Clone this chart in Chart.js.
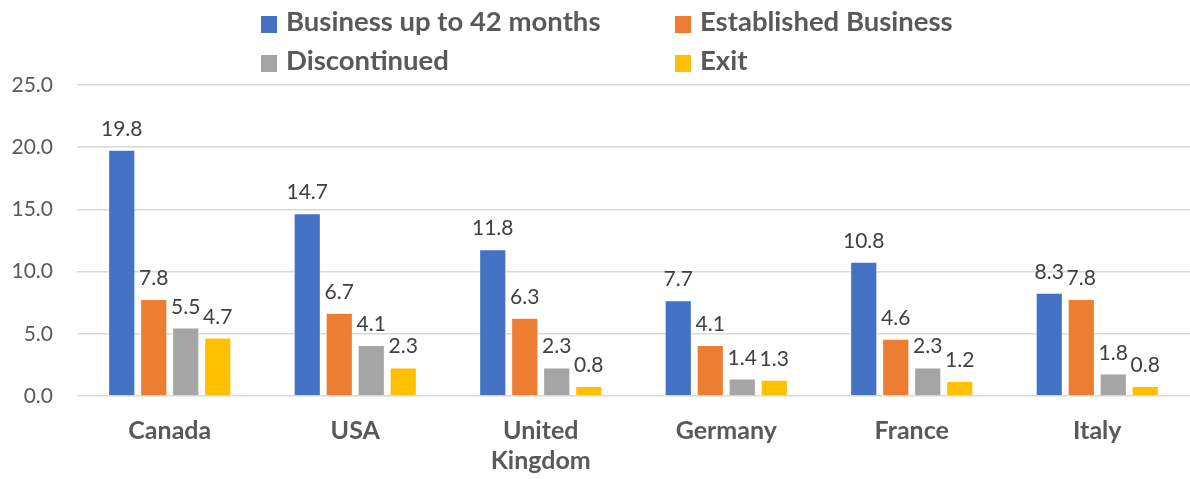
<!DOCTYPE html>
<html>
<head>
<meta charset="utf-8">
<script src="https://cdn.jsdelivr.net/npm/chart.js@4/dist/chart.umd.min.js"></script>
<style>
  html, body { margin: 0; padding: 0; background: #ffffff; }
  #wrap { width: 1190px; height: 479px; }
</style>
</head>
<body>
<div id="wrap"><canvas id="chart" width="1190" height="479"></canvas></div>
<script>
// Countries along the x axis
const categories = ['Canada', 'USA', ['United', 'Kingdom'], 'Germany', 'France', 'Italy'];

// Series names
const seriesNames = ['Business up to 42 months', 'Established Business', 'Discontinued', 'Exit'];

// Rates (%) per country
const newBusiness = [19.8, 14.7, 11.8, 7.7, 10.8, 8.3];
const establishedBusiness = [7.8, 6.7, 6.3, 4.1, 4.6, 7.8];
const discontinued = [5.5, 4.1, 2.3, 1.4, 2.3, 1.8];
const exitRate = [4.7, 2.3, 0.8, 1.3, 1.2, 0.8];

// Y axis ticks
const yTicks = [0, 5, 10, 15, 20, 25];

const seriesColors = ['#4472C4', '#ED7D31', '#A5A5A5', '#FFC000'];
const seriesValues = [newBusiness, establishedBusiness, discontinued, exitRate];

const FONT = 'Lato, "Open Sans", sans-serif';

// Value labels above each bar
const valueLabels = {
  id: 'valueLabels',
  afterDatasetsDraw(chart) {
    const ctx = chart.ctx;
    ctx.save();
    ctx.font = '21px ' + FONT;
    ctx.fillStyle = '#404040';
    ctx.textAlign = 'center';
    ctx.textBaseline = 'alphabetic';
    chart.data.datasets.forEach((ds, i) => {
      chart.getDatasetMeta(i).data.forEach((bar, j) => {
        ctx.fillText(ds.data[j].toFixed(1), bar.x, bar.y - 14);
      });
    });
    ctx.restore();
  }
};

// Two-column legend across the top
const gridLegend = {
  id: 'gridLegend',
  afterDraw(chart) {
    const ctx = chart.ctx;
    const colX = [261, 675];
    const rowY = [16, 55];
    ctx.save();
    ctx.font = 'bold 27.5px ' + FONT;
    ctx.textBaseline = 'alphabetic';
    ctx.textAlign = 'left';
    chart.data.datasets.forEach((ds, i) => {
      const x = colX[i % 2];
      const y = rowY[Math.floor(i / 2)];
      ctx.fillStyle = ds.backgroundColor;
      ctx.fillRect(x, y, 16, 17);
      ctx.fillStyle = '#595959';
      ctx.fillText(ds.label, x + 25, y + 15);
    });
    ctx.restore();
  }
};

new Chart(document.getElementById('chart'), {
  type: 'bar',
  data: {
    labels: categories,
    datasets: seriesNames.map((name, i) => ({
      label: name,
      data: seriesValues[i],
      backgroundColor: seriesColors[i],
      borderColor: 'rgba(255,255,255,0.7)',
      borderWidth: 1,
      categoryPercentage: 0.69,
      barPercentage: 0.85
    }))
  },
  options: {
    responsive: false,
    animation: false,
    layout: { padding: { top: 85, right: 0, left: 0, bottom: 0 } },
    plugins: {
      legend: { display: false },
      tooltip: { enabled: false }
    },
    scales: {
      x: {
        grid: { display: false, drawTicks: false },
        border: { display: false },
        ticks: {
          color: '#595959',
          font: { family: FONT, size: 25, weight: 'bold', lineHeight: 1.2 },
          padding: 20,
          maxRotation: 0
        },
        afterFit(scale) { scale.height = 83; }
      },
      y: {
        min: 0,
        max: 25,
        afterBuildTicks(scale) { scale.ticks = yTicks.map(v => ({ value: v })); },
        grid: { color: '#d9d9d9', lineWidth: 1.5, drawTicks: false },
        border: { display: false },
        ticks: {
          color: '#595959',
          font: { family: FONT, size: 21 },
          padding: 24,
          callback: v => Number(v).toFixed(1)
        },
        afterFit(scale) { scale.width = 77; }
      }
    }
  },
  plugins: [valueLabels, gridLegend]
});
</script>
</body>
</html>
